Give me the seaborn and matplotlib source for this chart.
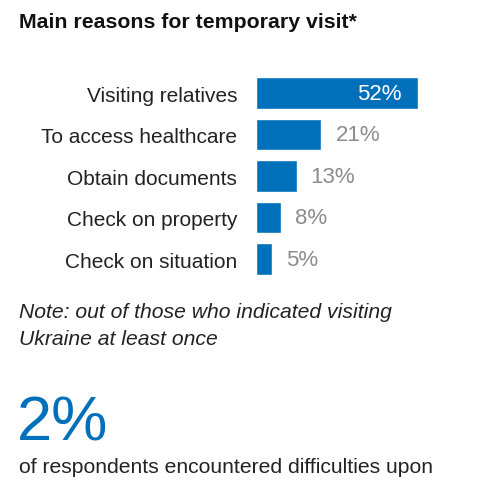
import pandas as pd
import matplotlib.pyplot as plt
import seaborn as sns

reasons = ['Visiting relatives', 'To access healthcare', 'Obtain documents',
           'Check on property', 'Check on situation']
shares = [52, 21, 13, 8, 5]

BLUE = '#0070BA'
GREY = '#8C8C8C'

sns.set_style('white')
plt.rcParams['font.family'] = ['Liberation Sans', 'DejaVu Sans']

df = pd.DataFrame({'reason': reasons, 'share': shares})

fig = plt.figure(figsize=(4.78, 4.85), dpi=100)
ax = fig.add_axes([256 / 478, 1 - 280.75 / 485, 162 / 478, 207.5 / 485])
sns.barplot(data=df, x='share', y='reason', color=BLUE, saturation=1,
            width=0.77, ax=ax)
ax.set_xlim(0, 52)
ax.set_ylim(4.5, -0.5)
ax.set_xlabel('')
ax.set_ylabel('')
ax.set_xticks([])
ax.tick_params(axis='y', length=0, pad=13.5, labelsize=15, labelcolor='#222222')
sns.despine(ax=ax, left=True, bottom=True)

for i, v in enumerate(shares):
    if v == max(shares):
        ax.text(v - 5.3, i, f'{v}%', ha='right', va='center', color='white', fontsize=16)
    else:
        ax.text(v + 4.5, i, f'{v}%', ha='left', va='center', color=GREY, fontsize=16)

fig.text(19 / 478, 1 - 22 / 485, 'Main reasons for temporary visit*', fontsize=15.3,
         fontweight='bold', va='center', ha='left', color='#111111')
fig.text(19 / 478, 1 - 312 / 485, 'Note: out of those who indicated visiting',
         fontsize=15.2, style='italic', va='center', ha='left', color='#222222')
fig.text(19 / 478, 1 - 340 / 485, 'Ukraine at least once',
         fontsize=15.2, style='italic', va='center', ha='left', color='#222222')
fig.text(17 / 478, 1 - 441 / 485, '2%', fontsize=45.5, va='baseline', ha='left', color=BLUE)
fig.text(19 / 478, 1 - 468 / 485, 'of respondents encountered difficulties upon',
         fontsize=15.2, va='center', ha='left', color='#222222')

fig.savefig('out.png', dpi=100)
